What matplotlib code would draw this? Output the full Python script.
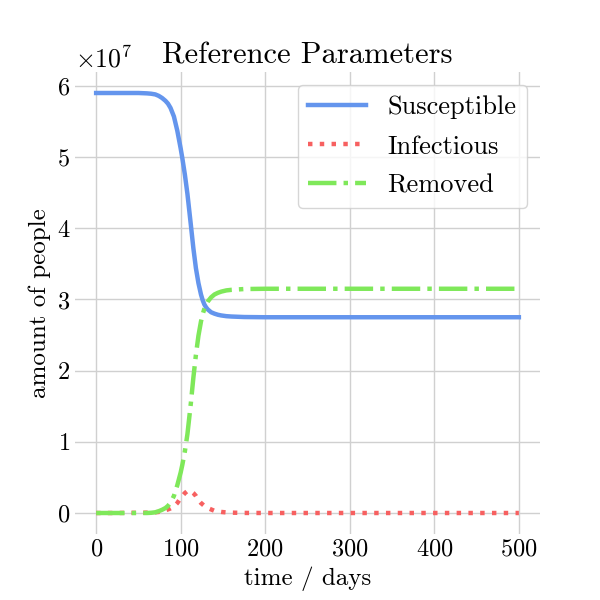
import numpy as np
import matplotlib
matplotlib.use("Agg")
import matplotlib.pyplot as plt

plt.rcParams['font.family'] = 'serif'
plt.rcParams['font.serif'] = ['cmr10']
plt.rcParams['mathtext.fontset'] = 'cm'
plt.rcParams['axes.formatter.use_mathtext'] = True
plt.rcParams['axes.unicode_minus'] = False

# (people, in units of 1e7)
days = [0, 20, 40, 50, 60, 65, 70, 74, 78, 82, 85, 88, 92, 96, 100, 102, 105, 108,
        112, 115, 118, 121, 124, 126, 128, 130, 132, 136, 140, 144, 148, 154, 160,
        175, 200, 250, 300, 400, 500]
susceptible = [5.90, 5.90, 5.90, 5.90, 5.895, 5.89, 5.88, 5.86, 5.83, 5.79, 5.75, 5.69,
               5.57, 5.37, 5.12, 4.98, 4.75, 4.48, 4.05, 3.72, 3.44, 3.23, 3.07, 2.99,
               2.93, 2.89, 2.86, 2.82, 2.80, 2.785, 2.775, 2.765, 2.76, 2.753, 2.75,
               2.75, 2.75, 2.75, 2.75]
infectious = [0.0, 0.0, 0.002, 0.003, 0.005, 0.007, 0.01, 0.015, 0.025, 0.04, 0.05, 0.065,
              0.09, 0.14, 0.21, 0.24, 0.28, 0.31, 0.31, 0.28, 0.24, 0.18, 0.14, 0.12,
              0.10, 0.085, 0.07, 0.05, 0.03, 0.022, 0.015, 0.008, 0.005, 0.001, 0.0,
              0.0, 0.0, 0.0, 0.0]
removed = [0.0, 0.0, 0.0, 0.0, 0.0, 0.003, 0.01, 0.025, 0.045, 0.07, 0.10, 0.145,
           0.24, 0.39, 0.57, 0.68, 0.87, 1.11, 1.54, 1.90, 2.22, 2.49, 2.69, 2.79,
           2.87, 2.925, 2.97, 3.03, 3.07, 3.093, 3.11, 3.127, 3.135, 3.146, 3.15,
           3.15, 3.15, 3.15, 3.15]

scale = 1e7
S = np.array(susceptible) * scale
I = np.array(infectious) * scale
R = np.array(removed) * scale

fig, ax = plt.subplots(figsize=(6, 6), dpi=100)
ax.plot(days, S, color='#6495ED', lw=3.2, label='Susceptible')
ax.plot(days, I, color='#F76060', lw=3.2, ls=':', label='Infectious')
ax.plot(days, R, color='#7FE85A', lw=3.2, ls='-.', label='Removed')

ax.set_title('Reference Parameters', fontsize=22)
ax.set_xlabel('time / days', fontsize=18)
ax.set_ylabel('amount of people', fontsize=18)
ax.tick_params(labelsize=17.5, length=0)
ax.yaxis.get_offset_text().set_fontsize(18.5)
ax.set_xticks([0, 100, 200, 300, 400, 500])
ax.grid(True, color='#d0d0d0', lw=1)
for s in ax.spines.values():
    s.set_visible(False)

leg = ax.legend(loc='upper right', fontsize=19, handlelength=2.2,
                labelspacing=0.58, fancybox=True)
leg.get_frame().set_edgecolor('#cccccc')

plt.savefig('out.png')
